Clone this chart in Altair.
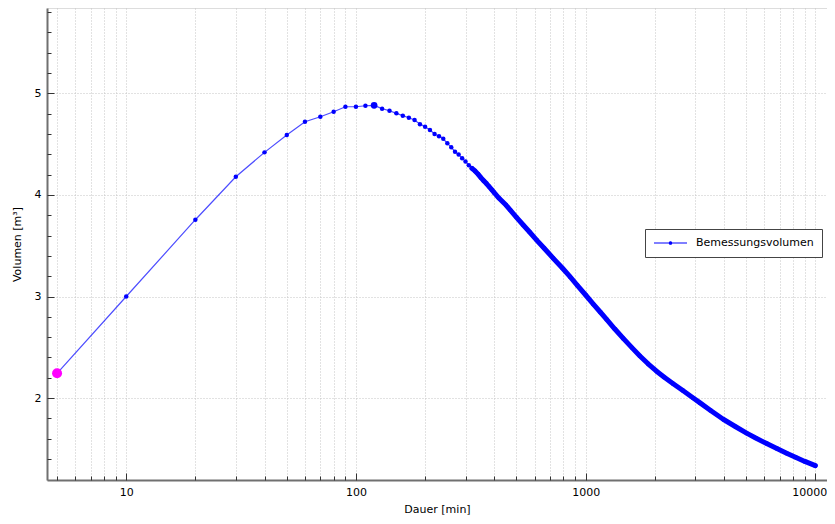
import altair as alt
import pandas as pd

# ---- data ----
dauer = [5, 10, 20, 30, 40, 50, 60, 70, 80, 90, 100, 110, 120, 130, 140, 150, 160, 170,
         180, 190, 200, 210, 220, 230, 240, 250, 260, 270, 280, 290, 300, 310, 320, 330,
         340, 350, 360, 370, 380, 390, 400, 420, 450, 470, 500, 535, 570, 612, 660, 723,
         790, 855, 920, 1000, 1080, 1160, 1234, 1340, 1458, 1590, 1723, 1870, 2036, 2200,
         2405, 2650, 2940, 3150, 3500, 3972, 4500, 5021, 5500, 6138, 6800, 7499, 8200,
         9000, 10000]
volumen = [2.244, 3.000, 3.756, 4.179, 4.419, 4.590, 4.721, 4.770, 4.819, 4.868, 4.868,
           4.878, 4.882, 4.849, 4.829, 4.803, 4.780, 4.760, 4.737, 4.695, 4.672, 4.639,
           4.600, 4.578, 4.553, 4.508, 4.470, 4.425, 4.398, 4.360, 4.330, 4.292, 4.262,
           4.236, 4.205, 4.170, 4.140, 4.112, 4.082, 4.052, 4.022, 3.967, 3.900, 3.851,
           3.780, 3.704, 3.635, 3.556, 3.475, 3.376, 3.283, 3.195, 3.110, 3.015, 2.925,
           2.845, 2.775, 2.680, 2.588, 2.497, 2.415, 2.338, 2.265, 2.205, 2.142, 2.075,
           2.002, 1.953, 1.878, 1.792, 1.718, 1.655, 1.607, 1.553, 1.505, 1.458, 1.418,
           1.377, 1.335]
series_name = "Bemessungsvolumen"

start_t = [5]
start_v = [2.244]
peak_t = [120]
peak_v = [4.882]

x_major = [10, 100, 1000, 10000]
x_minor = [5, 6, 7, 8, 9, 20, 30, 40, 50, 60, 70, 80, 90, 200, 300, 400, 500, 600, 700,
           800, 900, 2000, 3000, 4000, 5000, 6000, 7000, 8000, 9000]
y_major = [2, 3, 4, 5]
y_minor = [1.4, 1.6, 1.8, 2.2, 2.4, 2.6, 2.8, 3.2, 3.4, 3.6, 3.8, 4.2, 4.4, 4.6, 4.8,
           5.2, 5.4, 5.6, 5.8]

df = pd.DataFrame({"t": dauer, "v": volumen, "reihe": [series_name] * len(dauer)})
df_start = pd.DataFrame({"t": start_t, "v": start_v})
df_peak = pd.DataFrame({"t": peak_t, "v": peak_v})

W, H = 780, 472
FONT = "DejaVu Sans"
BLUE = "#0000ff"
GRID = "#c4c4c4"

xs = alt.Scale(type="log", domain=[4.52, 11240], nice=False)
ys = alt.Scale(domain=[1.194, 5.84], nice=False, zero=False)

label_expr = "indexof([10, 100, 1000, 10000], datum.value) >= 0 ? format(datum.value, 'd') : ''"

main_x = alt.Axis(orient="bottom", values=x_major + x_minor, ticks=False, tickSize=0,
                  grid=True, gridDash=[1, 2], gridColor=GRID, gridWidth=1,
                  labelExpr=label_expr, labelFont=FONT, labelFontSize=11,
                  labelColor="#000000", labelPadding=6, labelOverlap=False,
                  labelFlush=False, labelBound=False,
                  labelOffset={"condition": {"test": "datum.value == 10000", "value": -6},
                               "value": 0},
                  domainColor="#707070", domainWidth=2,
                  title="Dauer [min]", titleFont=FONT, titleFontSize=11,
                  titleFontWeight="normal", titleColor="#000000", titlePadding=6)
main_y = alt.Axis(orient="left", values=y_major, ticks=False, tickSize=0,
                  grid=True, gridDash=[1, 2], gridColor=GRID, gridWidth=1,
                  format="d", labelFont=FONT, labelFontSize=11, labelColor="#000000",
                  labelPadding=6, labelOverlap=False, labelFlush=False,
                  domainColor="#707070", domainWidth=2,
                  title="Volumen [m³]", titleFont=FONT, titleFontSize=11,
                  titleFontWeight="normal", titleColor="#000000", titlePadding=12)


def tick_axis(orient, values, size, offset):
    return alt.Axis(orient=orient, offset=offset, values=values, labels=False,
                    domain=False, grid=False, ticks=True, tickSize=size,
                    tickColor="#333333", tickWidth=1, title=None)


legend_symbol = ("M-1,0H1M-0.076,0A0.076,0.076 0 1,1 0.076,0"
                 "A0.076,0.076 0 1,1 -0.076,0Z")

line_thin = alt.Chart(df).mark_line(strokeWidth=1.2, opacity=0.7).encode(
    x=alt.X("t:Q", scale=xs, axis=main_x),
    y=alt.Y("v:Q", scale=ys, axis=main_y),
    color=alt.Color("reihe:N", scale=alt.Scale(domain=[series_name], range=[BLUE]),
                    legend=alt.Legend(orient="none", legendX=598, legendY=221,
                                      title=None, symbolType=legend_symbol,
                                      symbolSize=1089, symbolStrokeWidth=1.2,
                                      symbolFillColor=BLUE, symbolStrokeColor=BLUE,
                                      symbolOpacity=1, clipHeight=12,
                                      labelFont=FONT, labelFontSize=11,
                                      labelColor="#000000", labelOffset=8,
                                      padding=8, strokeColor="#444444",
                                      fillColor="#ffffff")),
)

band = alt.Chart(df).transform_filter(alt.datum.t >= 320).mark_line(
    strokeWidth=5, color=BLUE, strokeCap="round", strokeJoin="round").encode(
    x=alt.X("t:Q", scale=xs, axis=tick_axis("top", x_minor, 4, -H)),
    y=alt.Y("v:Q", scale=ys, axis=tick_axis("right", y_minor, 4, -W)),
)

dots = alt.Chart(df).mark_circle(size=20, color=BLUE, opacity=1).encode(
    x=alt.X("t:Q", scale=xs, axis=tick_axis("top", x_major, 7, -H)),
    y=alt.Y("v:Q", scale=ys, axis=tick_axis("right", y_major, 7, -W)),
)

peak = alt.Chart(df_peak).mark_circle(size=45, color=BLUE, opacity=1).encode(
    x=alt.X("t:Q", scale=xs, axis=None),
    y=alt.Y("v:Q", scale=ys, axis=None),
)

start = alt.Chart(df_start).mark_circle(size=100, color="#ff00ff", opacity=1).encode(
    x=alt.X("t:Q", scale=xs, axis=None),
    y=alt.Y("v:Q", scale=ys, axis=None),
)

chart = alt.layer(line_thin, band, dots, peak, start).resolve_axis(
    x="independent", y="independent"
).properties(
    width=W, height=H,
    autosize=alt.AutoSizeParams(type="none"),
    padding={"left": 39, "top": 0, "right": 0, "bottom": 36},
).configure_view(stroke="transparent").configure(background="white")

chart.save("out.html", embed_options={"renderer": "svg", "actions": False})
